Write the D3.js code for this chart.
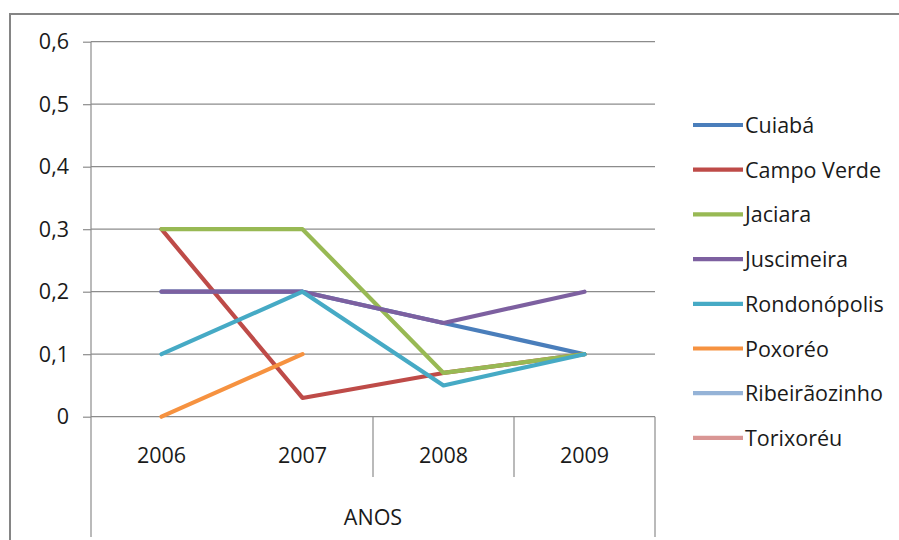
<!DOCTYPE html>
<html>
<head>
<meta charset="utf-8">
<script src="https://cdn.jsdelivr.net/npm/d3@7"></script>
<style>
  html, body { margin: 0; padding: 0; background: #fff; }
  svg { display: block; }
  text { font-family: "Open Sans", "Lato", sans-serif; fill: #1a1a1a; }
</style>
</head>
<body>
<svg id="chart" width="899" height="540"></svg>
<script>
// Years on the category axis
const years = ["2006", "2007", "2008", "2009"];

// One value per year for each municipality (null = no value)
const cuiaba        = [0.2, 0.2, 0.15, 0.1];
const campoVerde    = [0.3, 0.03, 0.07, 0.1];
const jaciara       = [0.3, 0.3, 0.07, 0.1];
const juscimeira    = [0.2, 0.2, 0.15, 0.2];
const rondonopolis  = [0.1, 0.2, 0.05, 0.1];
const poxoreo       = [0.0, 0.1, null, null];
const ribeiraozinho = [null, null, null, null];
const torixoreu     = [null, null, null, null];

const seriesNames = ["Cuiabá", "Campo Verde", "Jaciara", "Juscimeira",
                     "Rondonópolis", "Poxoréo", "Ribeirãozinho", "Torixoréu"];
const seriesValues = [cuiaba, campoVerde, jaciara, juscimeira,
                      rondonopolis, poxoreo, ribeiraozinho, torixoreu];
const seriesColors = ["#4a7ebb", "#be4b48", "#98b954", "#7d60a0",
                      "#46aac5", "#f69240", "#95b3d7", "#d99694"];

const yTicks = [0, 0.1, 0.2, 0.3, 0.4, 0.5, 0.6];
const yTickLabels = ["0", "0,1", "0,2", "0,3", "0,4", "0,5", "0,6"];
const axisTitle = "ANOS";

const svg = d3.select("#chart");
const plotLeft = 91, plotRight = 655, plotTop = 41.7, plotBottom = 416.7;
const axisBottom = 537, dividerBottom = 477;
const fontSize = 21.5;

const x = d3.scaleBand().domain(years).range([plotLeft, plotRight]);
const y = d3.scaleLinear().domain([0, 0.6]).range([plotBottom, plotTop]);

// Outer frame
svg.append("path")
  .attr("d", `M10,540 L10,14 L899,14`)
  .attr("fill", "none").attr("stroke", "#858585").attr("stroke-width", 2);

// Horizontal gridlines
svg.append("g").selectAll("line").data(yTicks).join("line")
  .attr("x1", plotLeft).attr("x2", plotRight)
  .attr("y1", d => y(d)).attr("y2", d => y(d))
  .attr("stroke", "#8c8c8c").attr("stroke-width", 1.2);

// Value axis with tick marks on the left
const yAxis = d3.axisLeft(y).tickValues(yTicks).tickSize(8)
  .tickFormat((d, i) => yTickLabels[i]).tickPadding(14);
const gy = svg.append("g").attr("transform", `translate(${plotLeft},0)`).call(yAxis);
gy.select(".domain").remove();
gy.selectAll(".tick line").attr("stroke", "#8c8c8c").attr("stroke-width", 1.2);
gy.selectAll(".tick text").attr("font-size", fontSize).attr("fill", "#1a1a1a")
  .attr("font-family", "'Open Sans', sans-serif");

// Vertical axis line running down through the category box
svg.append("line")
  .attr("x1", plotLeft).attr("x2", plotLeft).attr("y1", plotTop).attr("y2", axisBottom)
  .attr("stroke", "#8c8c8c").attr("stroke-width", 1.2);

// Category dividers below the baseline
svg.append("g").selectAll("line").data(years.slice(2)).join("line")
  .attr("x1", d => x(d)).attr("x2", d => x(d))
  .attr("y1", plotBottom).attr("y2", dividerBottom)
  .attr("stroke", "#8c8c8c").attr("stroke-width", 1.2);
svg.append("line")
  .attr("x1", plotRight).attr("x2", plotRight).attr("y1", plotBottom).attr("y2", axisBottom)
  .attr("stroke", "#8c8c8c").attr("stroke-width", 1.2);

// Year labels
svg.append("g").selectAll("text").data(years).join("text")
  .attr("x", d => x(d) + x.bandwidth() / 2).attr("y", 463)
  .attr("text-anchor", "middle").attr("font-size", fontSize).text(d => d);

// Axis title
svg.append("text").attr("x", (plotLeft + plotRight) / 2).attr("y", 525)
  .attr("text-anchor", "middle").attr("font-size", fontSize).text(axisTitle);

// Series lines
const line = d3.line()
  .defined(d => d.v !== null)
  .x(d => x(d.year) + x.bandwidth() / 2)
  .y(d => y(d.v));

svg.append("g").selectAll("path")
  .data(seriesValues.map((vals, i) => ({
    color: seriesColors[i],
    pts: vals.map((v, j) => ({ year: years[j], v }))
  })))
  .join("path")
  .attr("d", d => line(d.pts))
  .attr("fill", "none")
  .attr("stroke", d => d.color)
  .attr("stroke-width", 4.2)
  .attr("stroke-linejoin", "round")
  .attr("stroke-linecap", "round");

// Legend
const legend = svg.append("g").selectAll("g").data(seriesNames).join("g")
  .attr("transform", (d, i) => `translate(693,${125 + i * 44.7})`);
legend.append("line")
  .attr("x1", 0).attr("x2", 50).attr("y1", 0).attr("y2", 0)
  .attr("stroke", (d, i) => seriesColors[i]).attr("stroke-width", 4.2);
legend.append("text")
  .attr("x", 52).attr("y", 8).attr("font-size", fontSize).text(d => d);
</script>
</body>
</html>
